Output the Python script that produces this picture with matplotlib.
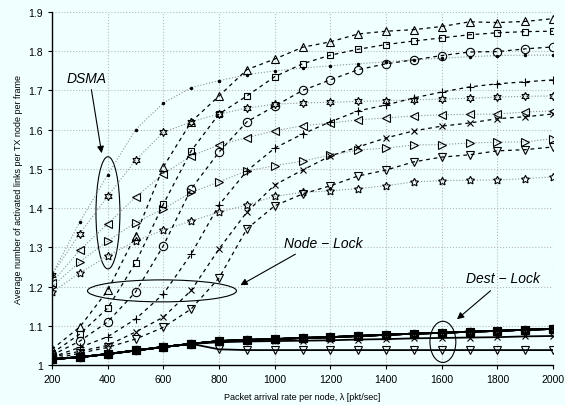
import matplotlib
matplotlib.use("Agg")
import matplotlib.pyplot as plt
from matplotlib.patches import Ellipse

plt.rcParams["font.family"] = ["Liberation Sans", "DejaVu Sans"]

x = [200, 300, 400, 500, 600, 700, 800, 900, 1000, 1100, 1200,
     1300, 1400, 1500, 1600, 1700, 1800, 1900, 2000]

# DSMA (dotted)
dsma_dot = [1.23, 1.365, 1.485, 1.60, 1.668, 1.707, 1.725, 1.74, 1.75, 1.757,
            1.763, 1.768, 1.773, 1.778, 1.782, 1.786, 1.789, 1.79, 1.79]
dsma_hex = [1.23, 1.335, 1.43, 1.522, 1.593, 1.62, 1.64, 1.655, 1.665, 1.668,
            1.67, 1.672, 1.674, 1.676, 1.678, 1.68, 1.683, 1.685, 1.686]
dsma_tl = [1.21, 1.293, 1.36, 1.428, 1.487, 1.533, 1.561, 1.58, 1.597, 1.61,
           1.617, 1.625, 1.63, 1.635, 1.638, 1.639, 1.64, 1.645, 1.648]
dsma_tr = [1.20, 1.263, 1.316, 1.363, 1.398, 1.44, 1.467, 1.495, 1.508, 1.52,
           1.535, 1.548, 1.553, 1.561, 1.562, 1.566, 1.568, 1.569, 1.577]
dsma_star = [1.185, 1.235, 1.278, 1.316, 1.344, 1.367, 1.39, 1.408, 1.43, 1.44,
             1.444, 1.45, 1.457, 1.467, 1.47, 1.471, 1.472, 1.475, 1.48]

# Node-Lock (dashed)
nl_tri_up = [1.04, 1.097, 1.19, 1.33, 1.505, 1.62, 1.686, 1.753, 1.78, 1.81,
             1.824, 1.844, 1.851, 1.855, 1.863, 1.875, 1.873, 1.876, 1.883]
nl_sq = [1.03, 1.079, 1.145, 1.26, 1.41, 1.546, 1.64, 1.686, 1.735, 1.768,
         1.79, 1.805, 1.817, 1.826, 1.834, 1.842, 1.847, 1.85, 1.851]
nl_circ = [1.025, 1.061, 1.11, 1.186, 1.304, 1.449, 1.543, 1.62, 1.66, 1.70,
           1.727, 1.753, 1.768, 1.778, 1.789, 1.798, 1.799, 1.806, 1.811]
nl_plus = [1.02, 1.045, 1.072, 1.117, 1.181, 1.283, 1.408, 1.495, 1.553, 1.589,
           1.62, 1.648, 1.663, 1.681, 1.696, 1.709, 1.717, 1.722, 1.727]
nl_x = [1.02, 1.035, 1.05, 1.084, 1.122, 1.19, 1.296, 1.39, 1.459, 1.497,
        1.533, 1.556, 1.579, 1.597, 1.609, 1.617, 1.628, 1.633, 1.64]
nl_tri_dn = [1.015, 1.03, 1.045, 1.066, 1.096, 1.143, 1.222, 1.347, 1.406, 1.436,
             1.457, 1.482, 1.497, 1.518, 1.53, 1.536, 1.546, 1.549, 1.556]

# Dest-Lock (solid)
dl_main = [1.015, 1.02, 1.028, 1.037, 1.046, 1.054, 1.061, 1.064, 1.066, 1.069,
           1.071, 1.074, 1.077, 1.08, 1.082, 1.085, 1.087, 1.09, 1.092]
dl_x = [1.015, 1.02, 1.028, 1.037, 1.046, 1.054, 1.058, 1.06, 1.061, 1.062,
        1.063, 1.065, 1.066, 1.068, 1.069, 1.07, 1.071, 1.073, 1.074]
dl_tri_dn = [1.015, 1.02, 1.028, 1.037, 1.046, 1.054, 1.04, 1.038, 1.038, 1.038,
             1.038, 1.038, 1.038, 1.038, 1.038, 1.038, 1.038, 1.038, 1.038]

bg = "#f0ffff"
fig = plt.figure(figsize=(5.65, 4.06), dpi=100, facecolor=bg)
ax = fig.add_axes([0.092, 0.0985, 0.887, 0.8695], facecolor=bg)

mk = dict(markerfacecolor="none", markeredgecolor="black", markeredgewidth=0.8, markersize=6)

# DSMA
dot_style = dict(color="#909090", linestyle=":", linewidth=0.8)
ax.plot(x, dsma_dot, marker=".", markersize=3, markerfacecolor="black",
        markeredgecolor="black", **dot_style)
ax.plot(x, dsma_hex, marker=(6, 1, 0), **dot_style, **mk)
ax.plot(x, dsma_tl, marker="<", **dot_style, **mk)
ax.plot(x, dsma_tr, marker=">", **dot_style, **mk)
ax.plot(x, dsma_star, marker=(5, 1, 0), **dot_style, **mk)

# Node-Lock
dash_style = dict(color="black", linestyle=(0, (3, 3)), linewidth=0.9)
ax.plot(x, nl_tri_up, marker="^", **dash_style, **mk)
ax.plot(x, nl_sq, marker="s", **dash_style, **{**mk, "markersize": 5})
ax.plot(x, nl_circ, marker="o", **dash_style, **mk)
ax.plot(x, nl_plus, marker="+", **dash_style, **mk)
ax.plot(x, nl_x, marker="x", **dash_style, **{**mk, "markersize": 4.5})
ax.plot(x, nl_tri_dn, marker="v", **dash_style, **mk)

# Dest-Lock
solid_style = dict(color="black", linestyle="-", linewidth=1.3)
for m in ["^", "s", "o", "+", (6, 1, 0), (5, 1, 0), "<", ">"]:
    ax.plot(x, dl_main, marker=m, **solid_style, **mk)
ax.plot(x, dl_x, marker="x", **solid_style, **{**mk, "markersize": 4.5})
ax.plot(x, dl_tri_dn, marker="v", **solid_style, **mk)

ax.set_xlim(200, 2000)
ax.set_ylim(1, 1.9)
ax.set_xticks(x[::2])
ax.set_yticks([1, 1.1, 1.2, 1.3, 1.4, 1.5, 1.6, 1.7, 1.8, 1.9])
ax.set_yticklabels(["1", "1.1", "1.2", "1.3", "1.4", "1.5", "1.6", "1.7", "1.8", "1.9"])
ax.tick_params(labelsize=7.5, direction="out", length=3, width=0.8)
ax.grid(True, color="#b8b8b8", linestyle=":", linewidth=0.8)
ax.set_axisbelow(True)
for s in ["top", "right"]:
    ax.spines[s].set_visible(False)
for s in ["left", "bottom"]:
    ax.spines[s].set_linewidth(1.0)

ax.set_xlabel("Packet arrival rate per node, \u03bb [pkt/sec]", fontsize=6.5, labelpad=6)
ax.set_ylabel("Average number of activated links per TX node per frame", fontsize=6.5, labelpad=4)

# annotations
ax.add_patch(Ellipse((401, 1.388), 86, 0.286, fill=False, edgecolor="black", linewidth=0.8))
ax.add_patch(Ellipse((595, 1.189), 535, 0.056, fill=False, edgecolor="black", linewidth=0.8))
ax.add_patch(Ellipse((1604, 1.059), 93, 0.105, fill=False, edgecolor="black", linewidth=0.8))

arrow = dict(arrowstyle="-|>", color="black", linewidth=0.8, mutation_scale=10)
ax.annotate("", xy=(380, 1.533), xytext=(340, 1.709), arrowprops=arrow)
ax.annotate("", xy=(868, 1.2), xytext=(1083, 1.286), arrowprops=arrow)
ax.annotate("", xy=(1647, 1.112), xytext=(1783, 1.194), arrowprops=arrow)

ax.text(326, 1.732, "DSMA", fontsize=10, style="italic", ha="center", va="center")
ax.text(1173, 1.311, "Node \u2212 Lock", fontsize=10, style="italic", ha="center", va="center")
ax.text(1819, 1.222, "Dest \u2212 Lock", fontsize=10, style="italic", ha="center", va="center")

fig.savefig("out.png", dpi=100, facecolor=bg)
